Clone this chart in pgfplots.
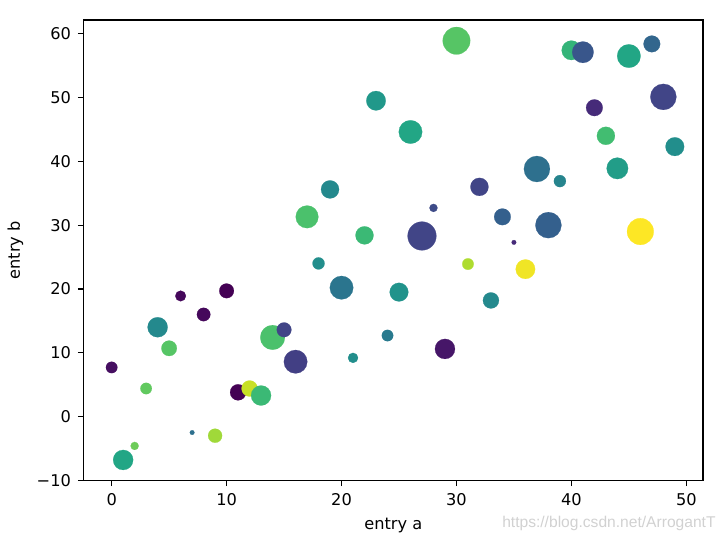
\documentclass[border=0pt]{standalone}
\usepackage{pgfplots}
\pgfplotsset{compat=1.18}
\usepackage{pgfplotstable}
\usepackage{fontspec}
\setmainfont{DejaVu Sans}
\newfontfamily\wmfont{Liberation Sans}
\pgfplotsset{colormap={myviridis}{rgb255=(68,1,84) rgb255=(72,36,117) rgb255=(65,68,135) rgb255=(53,95,141) rgb255=(42,120,142) rgb255=(33,145,140) rgb255=(34,168,132) rgb255=(68,191,112) rgb255=(122,209,81) rgb255=(189,223,38) rgb255=(253,231,37)}}
\pgfplotstableread{
a b c r
0 7.7 2 5.7
1 -6.8 29 10
2 -4.6 38 4
3 4.4 37 5.7
4 14.0 23 10
5 10.7 36 7.7
6 18.9 1 5.3
7 -2.5 18 2.3
8 16.0 1 6.7
9 -3.0 42 7
10 19.7 0 7.3
11 3.8 0 8
12 4.4 45 8
13 3.3 33 10
14 12.4 35 12.3
15 13.6 10 7.3
16 8.6 9 11.7
17 31.3 35 11.3
18 24.0 24 6
19 35.6 23 9
20 20.2 19 11.7
21 9.2 24 5
22 28.4 33 9
23 49.5 26 9.7
24 12.7 20 5.7
25 19.5 25 9.3
26 44.6 29 11.7
27 28.3 10 14.3
28 32.7 11 4
29 10.6 3 10
30 58.9 36 13.7
31 23.9 43 5.7
32 36.0 10 9
33 18.2 23 8
34 31.3 15 8.3
35 27.3 6 2.3
36 23.1 48 9.7
37 38.8 18 13
38 30.0 15 13
39 36.9 22 6
40 57.4 32 9.7
41 57.1 13 10.7
42 48.4 6 8.3
43 44.0 34 9
44 38.9 27 10.7
45 56.5 29 11.7
46 29.0 49 13.3
47 58.4 16 8.3
48 50.1 10 13
49 42.3 24 9.3
}\datatable
\begin{document}
\begin{tikzpicture}
\useasboundingbox (-41.75pt,-30.15pt) rectangle (321.25pt,240.35pt);
\begin{axis}[
  anchor=south west, at={(0pt,0pt)},
  scale only axis, width=309.75pt, height=230.35pt,
  xmin=-2.45, xmax=51.45, ymin=-10.05, ymax=62.15,
  xtick={0,10,20,30,40,50},
  ytick={-10,0,10,20,30,40,50,60},
  yticklabels={−10,0,10,20,30,40,50,60},
  tick align=outside, tick pos=left,
  major tick length=2.75pt,
  every tick/.style={black, line width=0.6pt},
  axis line style={line width=0.6pt},
  /pgf/number format/assume math mode=true,
  tick label style={font=\fontsize{8.1}{9.5}\selectfont, black},
  every axis x label/.style={at={(rel axis cs:0.5,0)}, yshift=-22.15pt, anchor=center, font=\fontsize{8.1}{9.5}\selectfont},
  every axis y label/.style={at={(rel axis cs:0,0.5)}, xshift=-34pt, rotate=90, anchor=center, font=\fontsize{8.1}{9.5}\selectfont},
  xlabel={entry a}, ylabel={entry b},
  colormap name=myviridis,
  point meta min=0, point meta max=49,
]
\addplot[scatter, only marks, mark=*, scatter src=explicit,
  scatter/use mapped color={draw=mapped color, fill=mapped color},
  mark options={line width=0.1pt},
  visualization depends on={0.5*\thisrow{r} \as \rr},
  scatter/@pre marker code/.append style={/tikz/mark size=\rr pt}]
  table[x=a, y=b, meta=c] {\datatable};
\end{axis}
\node[text=black!18, font=\wmfont\fontsize{7.8}{9}\selectfont, inner sep=0pt] at (262.7pt,-21.15pt) {https://blog.csdn.net/ArrogantT};
\end{tikzpicture}
\end{document}
